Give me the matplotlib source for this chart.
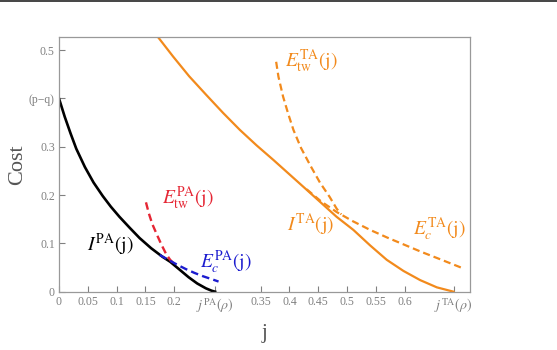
import matplotlib
matplotlib.use("Agg")
import matplotlib.pyplot as plt
from matplotlib.lines import Line2D

plt.rcParams['font.family'] = ['Liberation Serif', 'DejaVu Serif']
plt.rcParams['mathtext.fontset'] = 'stix'

# ---- data ----
j_I_pa = [0, 0.01, 0.02, 0.03, 0.045, 0.06, 0.076, 0.09, 0.105, 0.123, 0.14, 0.16,
          0.18, 0.193, 0.21, 0.225, 0.24, 0.255, 0.265, 0.271]
y_I_pa = [0.400, 0.362, 0.328, 0.296, 0.258, 0.226, 0.198, 0.176, 0.155, 0.132, 0.111,
          0.090, 0.072, 0.062, 0.045, 0.030, 0.017, 0.007, 0.002, 0.0]

j_Etw_pa = [0.151, 0.156, 0.162, 0.170, 0.178, 0.186, 0.193, 0.198]
y_Etw_pa = [0.185, 0.162, 0.140, 0.118, 0.097, 0.078, 0.066, 0.060]

j_Ec_pa = [0.175, 0.19, 0.205, 0.22, 0.235, 0.25, 0.265, 0.277]
y_Ec_pa = [0.076, 0.066, 0.056, 0.047, 0.039, 0.032, 0.026, 0.021]

j_I_ta = [0.172, 0.198, 0.226, 0.256, 0.285, 0.314, 0.343, 0.372, 0.401, 0.430, 0.456,
          0.482, 0.511, 0.54, 0.569, 0.598, 0.627, 0.656, 0.685]
y_I_ta = [0.527, 0.487, 0.446, 0.407, 0.370, 0.335, 0.303, 0.273, 0.242, 0.211, 0.183,
          0.155, 0.128, 0.096, 0.066, 0.043, 0.024, 0.009, 0.0]

j_Etw_ta = [0.377, 0.381, 0.389, 0.398, 0.407, 0.420, 0.436, 0.453, 0.470, 0.482, 0.49]
y_Etw_ta = [0.476, 0.445, 0.404, 0.368, 0.335, 0.298, 0.262, 0.226, 0.196, 0.172, 0.160]

j_Ec_ta = [0.43, 0.455, 0.482, 0.51, 0.54, 0.57, 0.60, 0.63, 0.66, 0.698]
y_Ec_ta = [0.212, 0.187, 0.165, 0.146, 0.128, 0.112, 0.097, 0.082, 0.068, 0.050]

j_pa = 0.271
j_ta = 0.685
xticks = [0, 0.05, 0.1, 0.15, 0.2, j_pa, 0.35, 0.4, 0.45, 0.5, 0.55, 0.6, j_ta]
xticklabels = ['0', '0.05', '0.1', '0.15', '0.2', r'$j^{\mathrm{PA}}(\rho)$',
               '0.35', '0.4', '0.45', '0.5', '0.55', '0.6', r'$j^{\mathrm{TA}}(\rho)$']
yticks = [0, 0.1, 0.2, 0.3, 0.4, 0.5]
yticklabels = ['0', '0.1', '0.2', '0.3', '(p\u2212q)', '0.5']

BLACK = '#000000'
RED = '#e52634'
BLUE = '#1c1ccf'
ORANGE = '#f28a1c'
GRAY = '#808080'

fig = plt.figure(figsize=(5.57, 3.5), dpi=100)
ax = fig.add_axes([59/557, 1-291.7/350, (470-59)/557, (291.7-37)/350])

dash = (0, (3.2, 1.8))
ax.plot(j_I_pa, y_I_pa, color=BLACK, lw=1.9)
ax.plot(j_Etw_pa, y_Etw_pa, color=RED, lw=1.7, ls=dash)
ax.plot(j_Ec_pa, y_Ec_pa, color=BLUE, lw=1.7, ls=dash)
ax.plot(j_I_ta, y_I_ta, color=ORANGE, lw=1.6)
ax.plot(j_Etw_ta, y_Etw_ta, color=ORANGE, lw=1.6, ls=dash)
ax.plot(j_Ec_ta, y_Ec_ta, color=ORANGE, lw=1.6, ls=dash)

ax.set_xlim(0, (470-59)/576)
ax.set_ylim(0, (291.7-37)/483)

ax.set_xticks(xticks)
ax.set_xticklabels(xticklabels)
ax.set_yticks(yticks)
ax.set_yticklabels(yticklabels)
ax.tick_params(direction='in', length=4, width=0.8, color=GRAY, labelcolor=GRAY,
               labelsize=8.5, pad=3)
for lbl in ax.get_xticklabels():
    if 'rho' in lbl.get_text():
        lbl.set_fontsize(10)
for s in ax.spines.values():
    s.set_color('#999999')
    s.set_linewidth(0.9)

ax.set_ylabel('Cost', fontsize=16, color='#555555', labelpad=1)
ax.set_xlabel('j', fontsize=15, color='#555555', labelpad=7)

fs = 14
ax.text(0.048, 0.085, r'$I^{\mathrm{PA}}(\mathrm{j})$', color=BLACK, fontsize=fs)
ax.text(0.178, 0.183, r'$E^{\mathrm{PA}}_{\mathrm{tw}}(\mathrm{j})$', color=RED, fontsize=fs)
ax.text(0.245, 0.05, r'$E^{\mathrm{PA}}_{c}(\mathrm{j})$', color=BLUE, fontsize=fs)
ax.text(0.392, 0.466, r'$E^{\mathrm{TA}}_{\mathrm{tw}}(\mathrm{j})$', color=ORANGE, fontsize=fs)
ax.text(0.395, 0.125, r'$I^{\mathrm{TA}}(\mathrm{j})$', color=ORANGE, fontsize=fs)
ax.text(0.615, 0.117, r'$E^{\mathrm{TA}}_{c}(\mathrm{j})$', color=ORANGE, fontsize=fs)

fig.add_artist(Line2D([0, 1], [1-0.8/350, 1-0.8/350], color='#444444', lw=1.4,
                      transform=fig.transFigure))

fig.savefig('out.png', dpi=100)
